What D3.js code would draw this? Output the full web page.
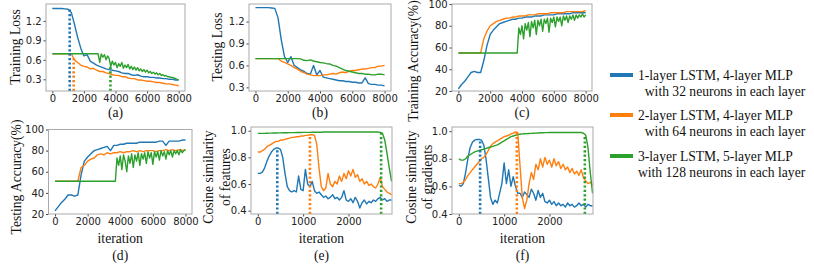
<!DOCTYPE html>
<html>
<head>
<meta charset="utf-8">
<script src="https://cdn.jsdelivr.net/npm/d3@7"></script>
<style>
body { margin: 0; background: #fff; }
.serif { font-family: "Liberation Serif", "Times New Roman", serif; font-size: 13.6px; fill: #111; white-space: pre; }
.tick text { font-family: "DejaVu Sans", sans-serif; font-size: 10px; fill: #222; }
.tick line { stroke: #444; }
</style>
</head>
<body>
<div id="chart-area"></div>
<script>
// iterations
const iterLong = [0,200,400,600,800,1000,1200,1400,1600,1800,2000,2200,2400,2600,2800,3000,3200,3400,3600,3800,
  4000,4200,4400,4600,4800,5000,5200,5400,5600,5800,6000,6200,6400,6600,6800,7000,7200,7400,7600,7800,8000];
const iterFine = [0,100,200,300,400,500,600,700,800,900,1000,1100,1200,1300,1400,1500,1600,1700,1800,1900,
  2000,2100,2200,2300,2400,2500,2600,2700,2800,2900,3000,3100,3200,3300,3400,3500,3600,3700,3800,3900,
  4000,4100,4200,4300,4400,4500,4600,4700,4800,4900,5000,5100,5200,5300,5400,5500,5600,5700,5800,5900,
  6000,6100,6200,6300,6400,6500,6600,6700,6800,6900,7000,7100,7200,7300,7400,7500,7600,7700,7800,7900,8000];
const iterShort = [0,50,100,150,200,250,300,350,400,450,500,550,600,650,700,750,800,850,900,950,
  1000,1050,1100,1150,1200,1250,1300,1350,1400,1450,1500,1550,1600,1650,1700,1750,1800,1850,1900,1950,
  2000,2050,2100,2150,2200,2250,2300,2350,2400,2450,2500,2550,2600,2650,2700,2750,2800,2850,2900,2950];

// (a) training loss
const trainLoss1 = [1.39,1.39,1.39,1.39,1.385,1.38,1.33,1.15,0.95,0.78,0.66,0.68,0.58,0.55,0.52,0.50,0.48,0.46,0.45,0.44,
  0.43,0.42,0.40,0.39,0.39,0.37,0.36,0.37,0.35,0.34,0.34,0.33,0.33,0.32,0.32,0.31,0.31,0.30,0.30,0.29,0.29];
const trainLoss2 = [0.693,0.693,0.693,0.693,0.693,0.693,0.693,0.60,0.56,0.52,0.50,0.49,0.46,0.47,0.44,0.42,0.42,0.40,0.39,0.37,
  0.36,0.36,0.34,0.34,0.32,0.31,0.31,0.29,0.29,0.28,0.27,0.27,0.26,0.25,0.25,0.24,0.23,0.23,0.22,0.21,0.20];
const trainLoss3 = [0.693,0.693,0.693,0.693,0.693,0.693,0.693,0.693,0.693,0.693,0.693,0.693,0.693,0.693,0.693,0.693,0.693,0.693,0.693,0.693,
  0.693,0.693,0.693,0.693,0.693,0.693,0.693,0.693,0.693,0.693,0.56,0.69,0.64,0.68,0.60,0.66,0.62,0.50,0.58,0.52,
  0.56,0.48,0.54,0.50,0.56,0.47,0.52,0.48,0.53,0.46,0.50,0.45,0.49,0.44,0.48,0.43,0.46,0.42,0.45,0.41,
  0.44,0.40,0.42,0.39,0.41,0.38,0.40,0.37,0.39,0.36,0.37,0.35,0.36,0.34,0.34,0.33,0.33,0.32,0.31,0.30,0.29];
const trainLossMarkIter = [1100, 1350, 3680];
const trainLossMarkVal = [1.38, 0.62, 0.52];

// (b) testing loss
const testLoss1 = [1.39,1.39,1.39,1.39,1.39,1.385,1.38,1.25,0.95,0.72,0.64,0.72,0.60,0.57,0.54,0.52,0.49,0.48,0.60,0.47,
  0.53,0.44,0.43,0.42,0.41,0.40,0.39,0.39,0.38,0.38,0.37,0.37,0.36,0.36,0.43,0.35,0.34,0.34,0.33,0.33,0.32];
const testLoss2 = [0.693,0.693,0.693,0.693,0.693,0.693,0.693,0.693,0.66,0.64,0.62,0.60,0.57,0.55,0.52,0.50,0.48,0.47,0.46,0.46,
  0.46,0.47,0.47,0.48,0.49,0.48,0.50,0.51,0.50,0.52,0.53,0.53,0.54,0.55,0.55,0.56,0.57,0.57,0.59,0.59,0.60];
const testLoss3 = [0.693,0.693,0.693,0.693,0.693,0.693,0.693,0.693,0.693,0.693,0.693,0.693,0.693,0.693,0.69,0.67,0.665,0.675,0.66,0.65,
  0.64,0.635,0.625,0.62,0.60,0.59,0.57,0.55,0.53,0.52,0.51,0.50,0.49,0.49,0.48,0.48,0.47,0.47,0.48,0.48,0.47];

// (c) training accuracy
const trainAcc1 = [22,26,29,33,37,38,37,37,48,62,72,76,79,82,83,84,85,86,86,87,
  87,88,88,88,89,89,89,90,90,90,90,91,91,91,91,91,92,92,92,92,92];
const trainAcc2 = [55,55,55,55,55,55,55,55,68,75,80,82,84,85,86,87,87,88,88,89,
  89,89,90,90,90,91,91,91,91,92,92,92,92,92,93,93,93,93,93,93,94];
const trainAcc3 = [55,55,55,55,55,55,55,55,55,55,55,55,55,55,55,55,55,55,55,55,
  55,55,55,55,55,55,55,55,55,55,55,55,55,55,55,55,55,55,78,72,
  80,68,82,76,83,70,84,78,85,72,85,80,86,75,86,82,87,74,87,83,
  88,79,88,84,88,80,89,85,89,83,89,86,90,85,90,87,90,88,91,88,90];

// (d) testing accuracy
const testAcc1 = [23,27,31,34,38,38,37,38,57,70,74,77,80,81,82,83,84,80,85,85,
  86,86,87,87,87,87,88,88,88,88,88,88,89,89,85,89,89,89,89,90,90];
const testAcc2 = [51,51,51,51,51,51,51,51,64,66,70,72,73,76,77,76,78,77,78,78,
  79,78,79,79,80,79,80,79,80,80,80,79,80,80,81,80,81,80,81,80,81];
const testAcc3 = [51,51,51,51,51,51,51,51,51,51,51,51,51,51,51,51,51,51,51,51,
  51,51,51,51,51,51,51,51,51,51,51,51,51,51,51,51,51,51,73,66,
  75,62,76,70,60,75,68,77,64,76,70,78,66,77,72,78,68,79,73,78,
  67,79,74,79,71,80,75,79,72,80,76,80,74,80,77,80,76,81,78,80,81];

// (e) cosine similarity of features
const cosFeat1 = [0.68,0.68,0.69,0.72,0.77,0.81,0.84,0.86,0.87,0.87,0.86,0.80,0.68,0.58,0.55,0.54,0.55,0.54,0.66,0.56,
  0.55,0.71,0.60,0.58,0.62,0.55,0.53,0.54,0.52,0.50,0.51,0.49,0.50,0.52,0.49,0.50,0.48,0.50,0.55,0.48,
  0.47,0.49,0.46,0.50,0.47,0.42,0.46,0.48,0.45,0.47,0.46,0.48,0.47,0.49,0.50,0.48,0.49,0.47,0.48,0.48];
const cosFeat2 = [0.84,0.84,0.85,0.86,0.88,0.89,0.90,0.91,0.92,0.92,0.93,0.93,0.935,0.94,0.945,0.95,0.95,0.955,0.955,0.96,
  0.96,0.965,0.965,0.97,0.97,0.965,0.90,0.72,0.58,0.55,0.57,0.68,0.60,0.58,0.62,0.60,0.66,0.62,0.68,0.64,
  0.70,0.66,0.71,0.65,0.67,0.62,0.64,0.60,0.62,0.59,0.60,0.58,0.57,0.60,0.65,0.58,0.56,0.54,0.53,0.52];
const cosFeat3 = [0.98,0.98,0.98,0.98,0.981,0.982,0.982,0.983,0.983,0.984,0.984,0.985,0.985,0.985,0.986,0.986,0.986,0.987,0.987,0.987,
  0.988,0.988,0.988,0.988,0.989,0.989,0.989,0.989,0.989,0.99,0.99,0.99,0.99,0.99,0.99,0.99,0.99,0.99,0.99,0.99,
  0.99,0.99,0.99,0.99,0.99,0.99,0.99,0.99,0.99,0.99,0.99,0.99,0.99,0.99,0.988,0.98,0.93,0.83,0.72,0.62];
const cosFeatMarkIter = [430, 1150, 2720];
const cosFeatMarkVal = [0.87, 0.97, 0.99];

// (f) cosine similarity of gradients
const cosGrad1 = [0.61,0.60,0.62,0.70,0.80,0.88,0.92,0.935,0.94,0.94,0.935,0.90,0.80,0.66,0.52,0.47,0.50,0.48,0.55,0.62,
  0.77,0.62,0.72,0.60,0.67,0.60,0.55,0.55,0.52,0.56,0.54,0.52,0.58,0.55,0.50,0.57,0.52,0.55,0.49,0.48,
  0.50,0.47,0.49,0.46,0.48,0.46,0.47,0.45,0.48,0.46,0.47,0.45,0.46,0.48,0.46,0.47,0.45,0.47,0.46,0.46];
const cosGrad2 = [0.62,0.62,0.63,0.65,0.68,0.70,0.72,0.74,0.76,0.78,0.80,0.81,0.83,0.86,0.89,0.91,0.92,0.93,0.94,0.95,
  0.96,0.965,0.97,0.98,0.985,0.995,0.99,0.75,0.52,0.44,0.50,0.62,0.70,0.65,0.76,0.72,0.80,0.74,0.81,0.76,
  0.79,0.74,0.80,0.75,0.78,0.73,0.76,0.72,0.74,0.70,0.73,0.69,0.71,0.68,0.72,0.66,0.64,0.62,0.63,0.61];
const cosGrad3 = [0.80,0.79,0.79,0.80,0.82,0.83,0.84,0.85,0.855,0.86,0.865,0.87,0.875,0.88,0.885,0.89,0.895,0.90,0.91,0.92,
  0.93,0.94,0.95,0.96,0.965,0.97,0.975,0.978,0.98,0.981,0.982,0.983,0.984,0.985,0.986,0.987,0.988,0.988,0.989,0.989,
  0.99,0.99,0.99,0.99,0.99,0.99,0.99,0.99,0.99,0.99,0.99,0.99,0.99,0.99,0.99,0.985,0.97,0.88,0.70,0.55];
const cosGradMarkIter = [470, 1280, 2780];
const cosGradMarkVal = [0.94, 0.995, 0.975];

// ticks and labels
const longTicks = [0, 2000, 4000, 6000, 8000];
const shortTicks = [0, 1000, 2000];
const lossTicks = [0.3, 0.6, 0.9, 1.2];
const accTicks = [20, 40, 60, 80, 100];
const cosTicks = [0.4, 0.6, 0.8, 1.0];
const legendLabels = [
  ["1-layer LSTM, 4-layer MLP", "  with 32 neurons in each layer"],
  ["2-layer LSTM, 4-layer MLP", "  with 64 neurons in each layer"],
  ["3-layer LSTM, 5-layer MLP", "with 128 neurons in each layer"]
];
const colors = ["#1f77b4", "#ff7f0e", "#2ca02c"];

let svg = d3.select("#chart-area").append("svg")
  .attr("width", 814)
  .attr("height", 266);

const panels = [
  { id: "a", left: 46, right: 185, top: 4, bottom: 91, xDom: [-400, 8400], yDom: [0.12, 1.46],
    iters: [iterLong, iterLong, iterFine], series: [trainLoss1, trainLoss2, trainLoss3], xTicks: longTicks, yTicks: lossTicks, fmt: ".1f",
    ylabel: ["Training Loss"], ylx: [15], yly: 47, markIter: trainLossMarkIter, markVal: trainLossMarkVal, subY: 112 },
  { id: "b", left: 249, right: 391, top: 4, bottom: 91, xDom: [-400, 8400], yDom: [0.25, 1.44],
    iters: [iterLong, iterLong, iterLong], series: [testLoss1, testLoss2, testLoss3], xTicks: longTicks, yTicks: lossTicks, fmt: ".1f",
    ylabel: ["Testing Loss"], ylx: [217.5], yly: 47, subY: 112 },
  { id: "c", left: 452, right: 592, top: 4, bottom: 91, xDom: [-400, 8400], yDom: [20, 100],
    iters: [iterLong, iterLong, iterFine], series: [trainAcc1, trainAcc2, trainAcc3], xTicks: longTicks, yTicks: accTicks, fmt: "d",
    ylabel: ["Training Accuracy(%)"], ylx: [413], yly: 61, subY: 112 },
  { id: "d", left: 48.5, right: 192, top: 129.5, bottom: 214, xDom: [-400, 8400], yDom: [20, 100],
    iters: [iterLong, iterLong, iterFine], series: [testAcc1, testAcc2, testAcc3], xTicks: longTicks, yTicks: accTicks, fmt: "d",
    ylabel: ["Testing Accuracy(%)"], ylx: [16], yly: 177, xlabel: "iteration", subY: 255 },
  { id: "e", left: 251, right: 392, top: 127, bottom: 214, xDom: [-150, 2960], yDom: [0.375, 1.028],
    iters: [iterShort, iterShort, iterShort], series: [cosFeat1, cosFeat2, cosFeat3], xTicks: shortTicks, yTicks: cosTicks, fmt: ".1f",
    ylabel: ["Cosine similarity", "of features"], ylx: [208, 225], yly: 177, xlabel: "iteration",
    markIter: cosFeatMarkIter, markVal: cosFeatMarkVal, subY: 255 },
  { id: "f", left: 452, right: 593, top: 127, bottom: 214, xDom: [-150, 2960], yDom: [0.40, 1.03],
    iters: [iterShort, iterShort, iterShort], series: [cosGrad1, cosGrad2, cosGrad3], xTicks: shortTicks, yTicks: cosTicks, fmt: ".1f",
    ylabel: ["Cosine similarity", "of gradients"], ylx: [411.5, 427], yly: 177, xlabel: "iteration",
    markIter: cosGradMarkIter, markVal: cosGradMarkVal, subY: 255 }
];

panels.forEach((p) => {
  let x = d3.scaleLinear().domain(p.xDom).range([p.left, p.right]);
  let y = d3.scaleLinear().domain(p.yDom).range([p.bottom, p.top]);
  let g = svg.append("g");

  g.append("clipPath").attr("id", "clip-" + p.id)
    .append("rect")
    .attr("x", p.left).attr("y", p.top)
    .attr("width", p.right - p.left).attr("height", p.bottom - p.top);

  let line = d3.line()
    .x((d) => x(d[0]))
    .y((d) => y(d[1]));

  let plot = g.append("g").attr("clip-path", "url(#clip-" + p.id + ")");
  p.series.forEach((s, i) => {
    plot.append("path")
      .datum(d3.zip(p.iters[i], s))
      .attr("d", line)
      .attr("fill", "none")
      .attr("stroke", colors[i])
      .attr("stroke-width", 1.4)
      .attr("stroke-linejoin", "round");
  });

  if (p.markIter) {
    p.markIter.forEach((m, i) => {
      plot.append("line")
        .attr("x1", x(m)).attr("x2", x(m))
        .attr("y1", p.bottom).attr("y2", y(p.markVal[i]))
        .attr("stroke", colors[i])
        .attr("stroke-width", 2.6)
        .attr("stroke-dasharray", "2.2,2.2");
    });
  }

  g.append("g")
    .attr("transform", "translate(0," + p.bottom + ")")
    .call(d3.axisBottom(x).tickValues(p.xTicks).tickSize(2.5).tickPadding(1.5).tickFormat(d3.format("d")))
    .call((a) => a.select(".domain").remove());

  g.append("g")
    .attr("transform", "translate(" + p.left + ",0)")
    .call(d3.axisLeft(y).tickValues(p.yTicks).tickSize(2.5).tickPadding(1.8).tickFormat(d3.format(p.fmt)))
    .call((a) => a.select(".domain").remove());

  g.append("rect")
    .attr("x", p.left).attr("y", p.top)
    .attr("width", p.right - p.left).attr("height", p.bottom - p.top)
    .attr("fill", "none")
    .attr("stroke", "#aaa")
    .attr("stroke-width", 1);

  p.ylabel.forEach((t, i) => {
    g.append("text")
      .attr("class", "serif")
      .attr("transform", "translate(" + p.ylx[i] + "," + p.yly + ") rotate(-90)")
      .attr("text-anchor", "middle")
      .attr("dominant-baseline", "central")
      .text(t);
  });

  let cx = (p.left + p.right) / 2;
  if (p.xlabel) {
    g.append("text")
      .attr("class", "serif")
      .attr("x", cx).attr("y", 238)
      .attr("text-anchor", "middle")
      .attr("dominant-baseline", "central")
      .text(p.xlabel);
  }
  g.append("text")
    .attr("class", "serif")
    .attr("x", cx).attr("y", p.subY)
    .attr("text-anchor", "middle")
    .attr("dominant-baseline", "central")
    .text("(" + p.id + ")");
});

// legend
const legendY = [75, 115, 156];
legendLabels.forEach((lines, i) => {
  svg.append("line")
    .attr("x1", 610).attr("x2", 633)
    .attr("y1", legendY[i]).attr("y2", legendY[i])
    .attr("stroke", colors[i])
    .attr("stroke-width", 4);
  lines.forEach((t, j) => {
    svg.append("text")
      .attr("class", "serif")
      .attr("x", 638)
      .attr("y", legendY[i] + j * 16.5)
      .attr("dominant-baseline", "central")
      .text(t);
  });
});
</script>
</body>
</html>
